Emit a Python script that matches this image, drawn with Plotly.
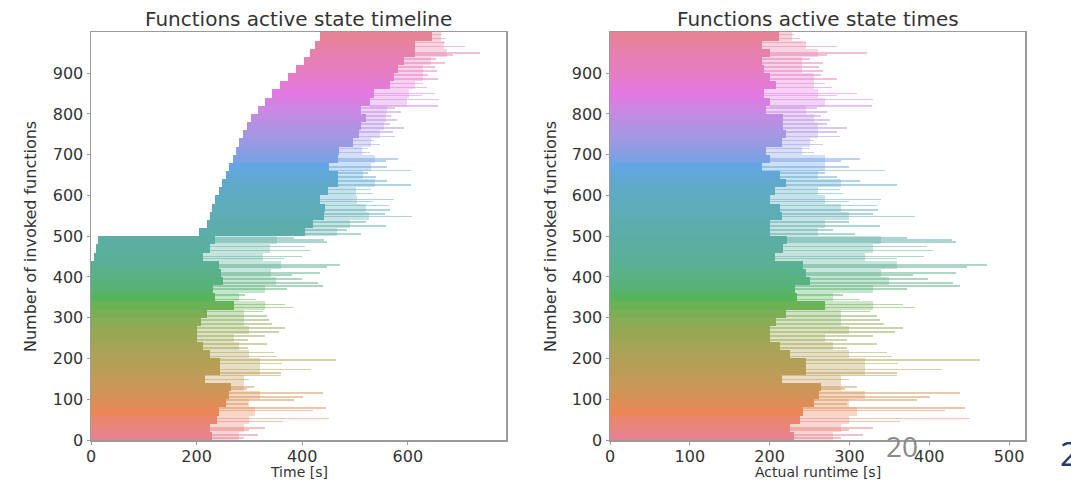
import math
import plotly.graph_objects as go

# ---------------- data (20-function bins) ----------------
bin_start = [0, 20, 40, 60, 80, 100, 120, 140, 160, 180,
             200, 220, 240, 260, 280, 300, 320, 340, 360, 380,
             400, 420, 440, 460, 480, 500, 520, 540, 560, 580,
             600, 620, 640, 660, 680, 700, 720, 740, 760, 780,
             800, 820, 840, 860, 880, 900, 920, 940, 960, 980]

# runtime reached by (almost) all functions of the bin  [s]
core_runtime = [230, 225, 238, 242, 255, 262, 265, 215, 245, 245,
                225, 213, 200, 200, 208, 220, 270, 234, 232, 250,
                246, 242, 207, 217, 222, 200, 200, 215, 213, 200,
                207, 220, 213, 190, 200, 196, 215, 220, 217, 217,
                196, 200, 193, 208, 200, 193, 190, 200, 190, 212]

# runtime reached by the bulk of the bin  [s]
mid_runtime = [280, 290, 300, 310, 300, 320, 290, 290, 320, 320,
               300, 280, 270, 300, 290, 290, 330, 280, 330, 350,
               340, 360, 320, 330, 340, 260, 270, 300, 290, 270,
               260, 290, 260, 270, 270, 240, 250, 260, 260, 255,
               245, 270, 260, 255, 255, 240, 240, 260, 245, 228]

# invocation (start) time of the bin on the timeline  [s]
start_time = [0, 0, 0, 0, 0, 0, 0, 0, 0, 0,
              0, 0, 0, 0, 0, 0, 0, 0, 0, 0,
              0, 0, 6, 9, 13, 205, 220, 226, 230, 234,
              242, 248, 255, 261, 268, 274, 281, 288, 295, 303,
              316, 329, 343, 358, 374, 389, 403, 414, 424, 434]

# individual long-running functions (function index, runtime [s])
streak_fn = [12, 5, 30, 25, 53, 45, 78, 72, 98, 88,
             115, 105, 130, 125, 158, 148, 173, 165, 196, 188,
             205, 215, 225, 235, 245, 255, 275, 265, 285, 295,
             305, 315, 325, 332, 345, 355, 370, 378, 385, 395,
             410, 405, 430, 425, 450, 445, 465, 475, 486, 490, 495,
             505, 515, 525, 535, 548, 555, 565, 575, 590, 585,
             605, 615, 625, 635, 645, 655, 661, 670, 690, 685,
             705, 715, 725, 735, 745, 755, 765, 775, 785, 795,
             805, 815, 820, 835, 850, 845, 865, 875, 885, 895,
             905, 915, 925, 935, 950, 945, 965, 975, 985, 995]
streak_runtime = [317, 290, 330, 300, 451, 363, 445, 420, 385, 297,
                  439, 401, 309, 295, 359, 300, 416, 359, 464, 361,
                  353, 347, 297, 334, 297, 330, 367, 357, 343, 338,
                  334, 326, 382, 367, 313, 292, 372, 439, 430, 399,
                  434, 380, 472, 447, 393, 360, 405, 397, 434, 428, 372,
                  307, 280, 338, 300, 382, 330, 336, 334, 340, 300,
                  292, 288, 359, 313, 284, 270, 345, 300, 313, 290,
                  255, 250, 267, 255, 288, 284, 297, 272, 276, 265,
                  272, 259, 328, 330, 309, 284, 278, 270, 284, 265,
                  267, 262, 267, 250, 322, 272, 284, 246, 238, 230]

N_FUNCS = 1000
BIN = 20

# ---------------- husl palette (seaborn style) ----------------
_M = [[3.2406, -1.5372, -0.4986],
      [-0.9689, 1.8758, 0.0415],
      [0.0557, -0.2040, 1.0570]]
_REF_U, _REF_V = 0.19784, 0.46834
_LAB_E, _LAB_K = 0.008856, 903.3


def _max_chroma(L, H):
    hrad = math.radians(H)
    sinH, cosH = math.sin(hrad), math.cos(hrad)
    sub1 = (L + 16.0) ** 3 / 1560896.0
    sub2 = sub1 if sub1 > 0.008856 else L / 903.3
    result = float("inf")
    for m1, m2, m3 in _M:
        top = (0.99915 * m1 + 1.05122 * m2 + 1.14460 * m3) * sub2
        rbottom = 0.86330 * m3 - 0.17266 * m2
        lbottom = 0.12949 * m3 - 0.38848 * m1
        bottom = (rbottom * sinH + lbottom * cosH) * sub2
        for t in (0.0, 1.0):
            C = L * (top - 1.05122 * t) / (bottom + 0.17266 * sinH * t)
            if 0.0 < C < result:
                result = C
    return result


def husl_to_rgb(h, s, l):
    C = _max_chroma(l, h) / 100.0 * s
    hrad = math.radians(h)
    U, V = math.cos(hrad) * C, math.sin(hrad) * C
    t = (l + 16.0) / 116.0
    varY = t ** 3 if t ** 3 > _LAB_E else (116.0 * t - 16.0) / _LAB_K
    varU = U / (13.0 * l) + _REF_U
    varV = V / (13.0 * l) + _REF_V
    Y = varY
    X = -(9.0 * Y * varU) / ((varU - 4.0) * varV - varU * varV)
    Z = (9.0 * Y - 15.0 * varV * Y - varV * X) / (3.0 * varV)
    out = []
    for row in _M:
        c = row[0] * X + row[1] * Y + row[2] * Z
        c = 12.92 * c if c <= 0.0031308 else 1.055 * c ** (1 / 2.4) - 0.055
        out.append(int(round(min(max(c, 0.0), 1.0) * 255)))
    return out


def fn_color(i, alpha=1.0):
    hue = ((i / N_FUNCS) + 0.01) % 1.0 * 359
    r, g, b = husl_to_rgb(hue, 70, 66)
    return f"rgba({r},{g},{b},{alpha})"


# ---------------- figure ----------------
fig = go.Figure()

bin_mid = [b + BIN / 2 for b in bin_start]
core_cols = [fn_color(b + BIN / 2) for b in bin_start]
mid_cols = [fn_color(b + BIN / 2, 0.34) for b in bin_start]

s_bin = [f // BIN for f in streak_fn]
s_cols = [fn_color(f, 0.5) for f in streak_fn]

panels = [("x", "y", True), ("x2", "y2", False)]
for xa, ya, timeline in panels:
    base0 = start_time if timeline else [0] * len(bin_start)
    # solid part
    fig.add_trace(go.Bar(
        orientation="h", y=bin_mid, x=core_runtime, base=base0, width=BIN,
        marker=dict(color=core_cols, line=dict(width=0)),
        xaxis=xa, yaxis=ya, showlegend=False, hoverinfo="skip"))
    # bulk (lighter) part
    fig.add_trace(go.Bar(
        orientation="h", y=bin_mid,
        x=[m - c for m, c in zip(mid_runtime, core_runtime)],
        base=[b + c for b, c in zip(base0, core_runtime)], width=BIN,
        marker=dict(color=mid_cols, line=dict(width=0)),
        xaxis=xa, yaxis=ya, showlegend=False, hoverinfo="skip"))
    # long individual functions
    fig.add_trace(go.Bar(
        orientation="h", y=streak_fn,
        x=[r - core_runtime[k] for r, k in zip(streak_runtime, s_bin)],
        base=[base0[k] + core_runtime[k] for k in s_bin], width=4,
        marker=dict(color=s_cols, line=dict(width=0)),
        xaxis=xa, yaxis=ya, showlegend=False, hoverinfo="skip"))

W, H = 1071, 481
TICKFONT = dict(family="DejaVu Sans", size=16, color="#333333")
axis_common = dict(showgrid=False, zeroline=False, showline=True, mirror=True,
                   linecolor="#9a9a9a", linewidth=1.5, ticks="outside",
                   ticklen=3, tickcolor="#9a9a9a", tickfont=TICKFONT,
                   automargin=False, fixedrange=True)

ydom = [1 - 440 / H, 1 - 32 / H]
fig.update_layout(
    width=W, height=H,
    margin=dict(l=0, r=0, t=0, b=0),
    paper_bgcolor="white", plot_bgcolor="white",
    barmode="overlay", bargap=0,
    xaxis=dict(domain=[91 / W, 506 / W], range=[0, 786], ticklabelstandoff=-2,
               tickvals=[0, 200, 400, 600], anchor="y", **axis_common),
    yaxis=dict(domain=ydom, range=[0, 1001],
               tickvals=[0, 100, 200, 300, 400, 500, 600, 700, 800, 900],
               anchor="x", **axis_common),
    xaxis2=dict(domain=[610 / W, 1025 / W], range=[0, 520], ticklabelstandoff=-2,
                tickvals=[0, 100, 200, 300, 400, 500], anchor="y2", **axis_common),
    yaxis2=dict(domain=ydom, range=[0, 1001],
                tickvals=[0, 100, 200, 300, 400, 500, 600, 700, 800, 900],
                anchor="x2", **axis_common),
)

TXT = "#333333"
ann = [
    dict(text="Functions active state timeline", x=298.5 / W, y=1 - 19 / H,
         font=dict(family="DejaVu Sans", size=20, color=TXT)),
    dict(text="Functions active state times", x=817.5 / W, y=1 - 19 / H,
         font=dict(family="DejaVu Sans", size=20, color=TXT)),
    dict(text="Time [s]", x=298.5 / W, y=1 - 472 / H,
         font=dict(family="DejaVu Sans", size=14, color=TXT)),
    dict(text="Actual runtime [s]", x=817.5 / W, y=1 - 472 / H,
         font=dict(family="DejaVu Sans", size=14, color=TXT)),
    dict(text="Number of invoked functions", x=30 / W, y=1 - 237 / H, textangle=-90,
         font=dict(family="DejaVu Sans", size=16, color=TXT)),
    dict(text="Number of invoked functions", x=550 / W, y=1 - 237 / H, textangle=-90,
         font=dict(family="DejaVu Sans", size=16, color=TXT)),
    dict(text="20", x=902 / W, y=1 - 446 / H,
         font=dict(family="Open Sans", size=28, color="#8a8a8a")),
    dict(text="2", x=1059 / W, y=1 - 453 / H, xanchor="left",
         font=dict(family="Open Sans", size=32, color="#1f3a6e")),
]
for a in ann:
    a.setdefault("xanchor", "center")
    fig.add_annotation(xref="paper", yref="paper", yanchor="middle",
                       showarrow=False, borderpad=0, **a)

fig.write_html("out.html",
               config={"displayModeBar": False, "staticPlot": True},
               post_script="document.body.style.margin='0';"
                           "document.body.style.overflow='hidden';")
